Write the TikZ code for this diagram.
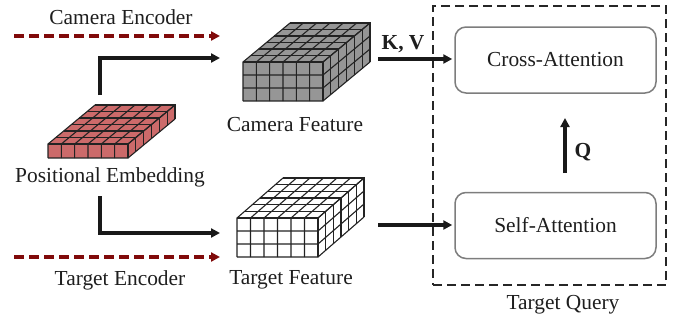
\documentclass[tikz,border=0pt]{standalone}
\usepackage{fontspec}
\setmainfont{Liberation Serif}
\usetikzlibrary{arrows.meta,calc}

\definecolor{encred}{RGB}{128,10,10}
\definecolor{embred}{RGB}{204,106,106}
\definecolor{featgray}{RGB}{150,150,150}
\definecolor{boxgray}{RGB}{125,125,125}
\definecolor{gridline}{RGB}{35,35,35}
\definecolor{txt}{RGB}{30,30,30}

\tikzset{
  lbl/.style={font=\fontsize{21.4}{24}\selectfont, text=txt, inner sep=0pt},
  boldlbl/.style={lbl, font=\fontsize{21.4}{24}\selectfont\bfseries},
  flow/.style={line width=3.3pt, draw=black!90, -{Triangle[length=9pt,width=9pt]}},
  encflow/.style={line width=3.4pt, draw=encred, dash pattern=on 10pt off 5pt,
                  -{Triangle[length=9pt,width=9pt]}},
  attnbox/.style={draw=boxgray, line width=1.5pt, rounded corners=11pt,
                  minimum width=201pt, minimum height=66pt, lbl},
  querybox/.style={draw=black!85, line width=1.6pt, dash pattern=on 9pt off 5pt,
                   minimum width=233pt, minimum height=279pt, inner sep=0pt},
  cellgrid/.style={draw=gridline, line width=1.1pt}
}

% cuboid of cells: #1 = front top-left (x,y), #2 = width, #3 = height,
% #4 = depth vector, #5 = columns, #6 = rows, #7 = depth cells, #8 = fill
\newcommand{\cellblock}[8]{%
  \coordinate (FTL) at (#1);
  \coordinate (FTR) at ($(FTL)+(#2,0)$);
  \coordinate (FBL) at ($(FTL)+(0,#3)$);
  \coordinate (FBR) at ($(FTL)+(#2,#3)$);
  \coordinate (BTL) at ($(FTL)+(#4)$);
  \coordinate (BTR) at ($(FTR)+(#4)$);
  \coordinate (BBR) at ($(FBR)+(#4)$);
  \fill[#8] (FTL) -- (FTR) -- (FBR) -- (FBL) -- cycle;
  \fill[#8] (FTL) -- (FTR) -- (BTR) -- (BTL) -- cycle;
  \fill[#8] (FTR) -- (BTR) -- (BBR) -- (FBR) -- cycle;
  \foreach \i in {0,...,#5}{
    \draw[cellgrid] ($(FBL)!\i/#5!(FBR)$) -- ($(FTL)!\i/#5!(FTR)$) -- ($(BTL)!\i/#5!(BTR)$);
  }
  \foreach \j in {0,...,#6}{
    \draw[cellgrid] ($(FTL)!\j/#6!(FBL)$) -- ($(FTR)!\j/#6!(FBR)$) -- ($(BTR)!\j/#6!(BBR)$);
  }
  \foreach \k in {0,...,#7}{
    \draw[cellgrid] ($(FTL)!\k/#7!(BTL)$) -- ($(FTR)!\k/#7!(BTR)$) -- ($(FBR)!\k/#7!(BBR)$);
  }
}

\begin{document}
\begin{tikzpicture}[x=1pt,y=-1pt]
\useasboundingbox (0,0) rectangle (686,322);

% feature blocks
\cellblock{48,144}{80}{14}{47,-39}{6}{1}{6}{embred}
\cellblock{243,62}{80}{39}{47,-39}{6}{3}{6}{featgray}
\cellblock{237,218}{81}{39}{46,-40}{6}{3}{6}{white}

% labels
\node[lbl] (camenc) at (121,17) {Camera Encoder};
\node[lbl] (posemb) at (110,177) {Positional Embedding};
\node[lbl] (tgtenc) at (120,280) {Target Encoder};
\node[lbl] (camfeat) at (295,125) {Camera Feature};
\node[lbl] (tgtfeat) at (291,280) {Target Feature};

% target query block
\node[querybox] (query) at (549.5,145.5) {};
\node[lbl] (querylbl) at (563,305) {Target Query};
\node[attnbox] (cross) at (555.5,60) {Cross-Attention};
\node[attnbox] (self) at (555.5,225.5) {Self-Attention};

% arrow end points
\coordinate (camencS) at (14,36);
\coordinate (camencE) at (220,36);
\coordinate (tgtencS) at (14,257);
\coordinate (tgtencE) at (220,257);
\coordinate (embUp) at (100,95);
\coordinate (embDown) at (100,196);
\coordinate (camIn) at (220,58);
\coordinate (tgtIn) at (220,233);
\coordinate (kvS) at (378,59);
\coordinate (tqS) at (378,225);
\coordinate (qS) at (565,173);
\coordinate (qE) at (565,118);

% encoder streams
\draw[encflow] (camencS) -- (camencE);
\draw[encflow] (tgtencS) -- (tgtencE);

% positional embedding feeding both features
\draw[flow] (embUp) |- (camIn);
\draw[flow] (embDown) |- (tgtIn);

% attention inputs
\draw[flow] (kvS) -- ([xshift=-2pt]kvS -| cross.west);
\draw[flow] (tqS) -- ([xshift=-2pt]tqS -| self.west);
\draw[flow] (qS) -- (qE);

\node[boldlbl] (kv) at (403,44) {K, V};
\node[boldlbl] (q) at (583,152) {Q};
\end{tikzpicture}
\end{document}
